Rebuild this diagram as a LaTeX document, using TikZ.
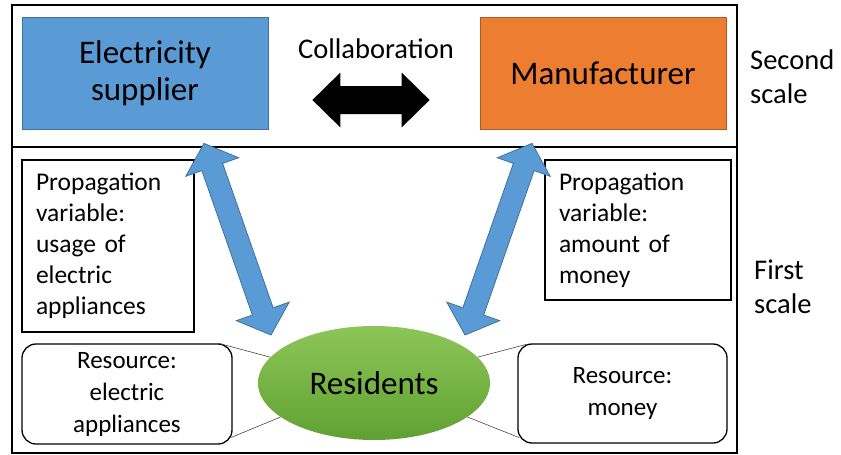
\documentclass[tikz,border=0pt]{standalone}
\usepackage{fontspec}
\setmainfont{Carlito}
\usetikzlibrary{calc,shapes.geometric}
\definecolor{eblue}{RGB}{91,155,213}
\definecolor{eblueb}{RGB}{65,113,156}
\definecolor{morange}{RGB}{237,125,49}
\definecolor{morangeb}{RGB}{174,90,33}
\definecolor{rgreenT}{RGB}{141,198,88}
\definecolor{rgreenB}{RGB}{96,160,50}
\definecolor{linkgray}{RGB}{70,70,70}
\newcommand\fatarrow[6]{%
  \path[#1] (#2)
  -- ($(#2)!#4!(#3)!#5!90:(#3)$)
  -- ($(#2)!#4!(#3)!#6!90:(#3)$)
  -- ($(#3)!#4!(#2)!#6!-90:(#2)$)
  -- ($(#3)!#4!(#2)!#5!-90:(#2)$)
  -- (#3)
  -- ($(#3)!#4!(#2)!#5!90:(#2)$)
  -- ($(#3)!#4!(#2)!#6!90:(#2)$)
  -- ($(#2)!#4!(#3)!#6!-90:(#3)$)
  -- ($(#2)!#4!(#3)!#5!-90:(#3)$)
  -- cycle;}
\begin{document}
\begin{tikzpicture}[x=1pt,y=-1pt,
  frame/.style={draw=black,line width=1.6pt},
  agent/.style={rectangle,minimum width=246pt,minimum height=112pt,inner sep=0pt,
    line width=0.8pt,align=center,font=\fontsize{33}{37}\selectfont},
  propbox/.style={rectangle,draw=black,line width=1.3pt,inner xsep=14pt,inner ysep=0pt,
    align=left,font=\fontsize{25.5}{31}\selectfont},
  resbox/.style={rectangle,rounded corners=14pt,draw=black,line width=1.3pt,inner sep=0pt,
    align=center,font=\fontsize{25}{32}\selectfont},
  scalelbl/.style={anchor=west,inner sep=0pt,align=left,font=\fontsize{28.5}{34}\selectfont},
  bluearrow/.style={fill=eblue,draw=eblueb,line width=0.8pt,line join=miter},
  linkline/.style={draw=linkgray,line width=0.6pt}]
\useasboundingbox (0,0) rectangle (841,455);
% frames
\draw[frame] (12,5) rectangle (737,147);
\draw[frame] (12,147) rectangle (737,453);
% second scale
\node[agent,fill=eblue,draw=eblueb] (elec) at (145,73) {Electricity\\supplier};
\node[agent,fill=morange,draw=morangeb] (manu) at (603,73) {Manufacturer};
\node[anchor=base,inner sep=0pt,font=\fontsize{28.5}{34}\selectfont] (collab) at (376,58) {Collaboration};
\coordinate (ca) at ($(elec.east)+(44,27)$);
\coordinate (cb) at ($(manu.west)+(-50,27)$);
\fatarrow{fill=black}{ca}{cb}{28pt}{27.5pt}{14pt}
\node[scalelbl] (second) at (750,77) {Second\\scale};
% first scale
\node[propbox,minimum width=172pt,minimum height=172pt,text width=144pt] (prop1) at (108,246)
  {Propagation\\variable:\\usage of\\electric\\appliances};
\node[propbox,minimum width=186pt,minimum height=140pt,text width=158pt] (prop2) at (638,230)
  {Propagation\\variable:\\amount of\\money};
\node[ellipse,minimum width=232pt,minimum height=114pt,inner sep=0pt,
  top color=rgreenT,bottom color=rgreenB,font=\fontsize{33}{37}\selectfont] (res) at (374,383) {Residents};
\node[resbox,minimum width=210pt,minimum height=100pt] (res1) at (127,394)
  {Resource:\\electric\\appliances};
\node[resbox,minimum width=209pt,minimum height=99pt] (res2) at (622.5,393.5)
  {Resource:\\money};
\draw[linkline] ($(res1.north east)+(-14,0)$) -- (res.166);
\draw[linkline] ($(res1.south east)+(-2,-7)$) -- (res.200);
\draw[linkline] ($(res2.north west)+(9,1)$) -- (res.14);
\draw[linkline] ($(res2.south west)+(2,-6)$) -- (res.340);
\node[scalelbl] (first) at (754,287) {First\\scale};
% propagation arrows
\coordinate (t1) at ($(elec.south)+(59,14)$);
\coordinate (b1) at ($(res.center)+(-103,-48)$);
\coordinate (t2) at ($(manu.south)+(-71,14)$);
\coordinate (b2) at ($(res.center)+(91,-48)$);
\fatarrow{bluearrow}{t1}{b1}{25pt}{28pt}{11pt}
\fatarrow{bluearrow}{t2}{b2}{25pt}{28pt}{11pt}
\end{tikzpicture}
\end{document}
